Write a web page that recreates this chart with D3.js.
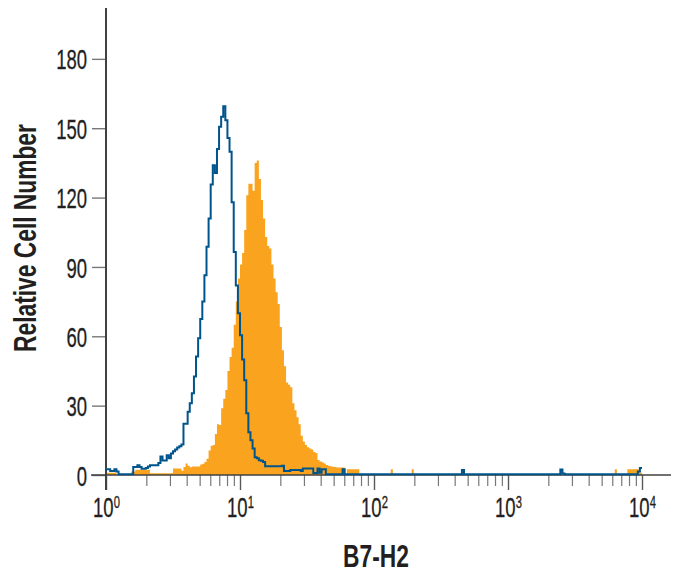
<!DOCTYPE html>
<html>
<head>
<meta charset="utf-8">
<script src="https://cdnjs.cloudflare.com/ajax/libs/d3/7.8.5/d3.min.js"></script>
<style>
  body { margin: 0; background: #fff; }
  text { font-family: "Liberation Sans", sans-serif; fill: #231f20; }
</style>
</head>
<body>
<div id="canvas"></div>
<script>
// counts per channel, 256 channels over 4 decades
var isotypeCounts = [
    2.5, 2.5, 1.7, 1.7, 2.5, 1.5, 0.3, 0.3, 0.3, 0.3,
    0.3, 0.3, 0.3, 3.5, 3.5, 4.2, 3.5, 2.7, 2.7, 3,
    3.7, 4.2, 4.2, 4.2, 4.2, 5.2, 8, 6.3, 6.3, 8.5,
    7.2, 9.3, 10.3, 11, 11.9, 12.4, 13.2, 22.2, 22.2, 27.4,
    31, 35.4, 42.6, 51.3, 59.2, 67.5, 75, 86.4, 98.7, 111,
    125.7, 134, 130.6, 141, 150.6, 155, 159.5, 153.5, 145.8, 139.8,
    118, 96.5, 82, 70, 60.4, 50, 41, 26.7, 18.5, 15,
    11.5, 7.7, 7.2, 6.4, 6.2, 5.6, 3.8, 3.8, 3.8, 3.8,
    3.8, 3.8, 3.8, 3.8, 4, 1.7, 1.7, 1.7, 2.2, 2.2,
    2.2, 2.2, 2.2, 1.7, 2.8, 2.8, 2.8, 2.8, 2.8, 0.9,
    0.9, 2.8, 1, 2.5, 2.5, 0.3, 0.3, 0.3, 0.3, 0.3,
    0.3, 0.3, 0.3, 2.5, 0.3, 0.3, 0.3, 0.3, 0.3, 0.3,
    0.3, 0.3, 0.3, 0.3, 0.3, 0.3, 0.3, 0.3, 0.3, 0.3,
    0.3, 0.3, 0.3, 0.3, 0.3, 0.3, 0.3, 0.3, 0.3, 0.3,
    0.3, 0.3, 0.3, 0.3, 0.3, 0.3, 0.3, 0.3, 0.3, 0.3,
    0.3, 0.3, 0.3, 0.3, 0.3, 0.3, 0.3, 0.3, 0.3, 0.3,
    0.3, 0.3, 0.3, 0.3, 0.3, 0.3, 0.3, 0.3, 0.3, 0.3,
    2.2, 0.3, 0.3, 0.3, 0.3, 0.3, 0.3, 0.3, 0.3, 0.3,
    0.3, 0.3, 0.3, 0.3, 0.3, 0.3, 0.3, 0.3, 0.3, 0.3,
    0.3, 0.3, 0.3, 0.3, 0.3, 0.3, 0.3, 0.3, 0.3, 0.3,
    0.3, 0.3, 0.3, 0.3, 0.3, 0.3, 0.3, 0.3, 0.3, 0.3,
    0.3, 0.3, 0.3, 0.3, 0.3, 0.3, 0.3, 2.4, 0.6, 0.3,
    0.3, 0.3, 0.3, 0.3, 0.3, 0.3, 0.3, 0.3, 0.3, 0.3,
    0.3, 0.3, 0.3, 0.3, 0.3, 0.3, 0.3, 0.3, 0.3, 0.3,
    0.3, 0.3, 0.3, 0.3, 0.3, 0.3, 0.3, 0.3, 0.3, 0.3,
    0.3, 0.3, 0.3, 0.3, 1.5, 3
];

var b7h2Counts = [
    1, 1, 1, 1, 1, 0, 0, 0, 0, 0,
    0, 0, 1.5, 1.5, 2.3, 2.3, 2.3, 2.3, 2.3, 2.3,
    2.3, 0.8, 0.8, 0.8, 0.8, 0.8, 0.8, 0.8, 0.8, 0.8,
    0.8, 0.8, 2.8, 2.8, 2.8, 2.8, 1.8, 3.5, 5, 4,
    3.3, 3.7, 3.7, 3.7, 3.7, 4.5, 4.9, 5.6, 7, 10.6,
    12.7, 13, 17.7, 22, 21.6, 28.9, 33, 36.8, 45, 51,
    55, 65, 75, 85, 91, 96, 106, 121, 126, 126,
    123, 135, 136, 128, 119, 111, 103, 99, 98, 91,
    85, 79, 74, 64, 54, 47, 40, 39, 38, 31,
    28, 25, 22, 17, 14.5, 13, 12, 11.5, 11, 10,
    9.5, 6.5, 5.8, 5.5, 5, 4.3, 4, 3.8, 3.6, 3.5,
    3.2, 3.2, 3.2, 3.2, 0.5, 2.5, 2.5, 2.5, 2.5, 2.5,
    2.5, 0, 0, 0, 0, 0, 0, 0, 0, 0,
    0, 0, 0, 0, 0, 0, 2.5, 0, 0, 0,
    0, 0, 0, 0, 0, 0, 2.5, 0, 0, 0,
    0, 0, 0, 0, 0, 0, 0, 0, 0, 0,
    0, 0, 0, 0, 0, 0, 0, 0, 0, 0,
    1.2, 0, 0, 0, 0, 0, 0, 0, 0, 0,
    0, 0, 0, 0, 0, 0, 0, 0, 0, 0,
    0, 0, 0, 0, 0, 0, 0, 0, 0, 0,
    0, 0, 0, 0, 0, 0, 0, 0, 0, 0,
    0, 0, 0, 0, 0, 0, 0, 1.2, 0, 0,
    0, 0, 0, 0, 0, 0, 0, 0, 0, 0,
    0, 0, 0, 0, 0, 0, 0, 0, 0, 0,
    0, 0, 0, 2.5, 0, 0, 0, 0, 0, 2.5,
    2.5, 2.5, 2.5, 2.5, 2.5, 1
];

var xMajor = [1, 10, 100, 1000, 10000];
var xExponents = [0, 1, 2, 3, 4];
var xMinor = [2, 3, 4, 5, 6, 7, 8, 9, 20, 30, 40, 50, 60, 70, 80, 90,
    200, 300, 400, 500, 600, 700, 800, 900,
    2000, 3000, 4000, 5000, 6000, 7000, 8000, 9000];
var yTicks = [0, 30, 60, 90, 120, 150, 180];

var channelsPerDecade = 64;
// the installed fonts have no condensed cut, so squeeze the text sideways
var tickSqueeze = 0.66;
var titleSqueeze = 0.735;

function barPoints(counts) {
    var pts = counts.map(function(c, i) {
        return { value: Math.pow(10, i / channelsPerDecade), count: c };
    });
    // close the last step at the end of the axis
    pts.push({ value: 10000, count: counts[counts.length - 1] });
    return pts;
}

var svg = d3.select('#canvas').append('svg')
    .attr('width', 680)
    .attr('height', 580);

var x = d3.scaleLog().domain([1, 10000]).range([106, 642]);
var y = d3.scaleLinear().domain([0, 202]).range([475, 8]);

var area = d3.area()
    .curve(d3.curveStepAfter)
    .x(function(d) { return x(d.value); })
    .y0(y(0))
    .y1(function(d) { return y(d.count); });

var line = d3.line()
    .curve(d3.curveStepAfter)
    .x(function(d) { return x(d.value); })
    .y(function(d) { return y(d.count); });

svg.append('path')
    .attr('d', area(barPoints(b7h2Counts)))
    .attr('fill', '#faa31e');

// axes
var minorAxis = svg.append('g')
    .attr('transform', 'translate(0,475)')
    .call(d3.axisBottom(x).tickValues(xMinor).tickSize(11).tickFormat(''));
minorAxis.select('.domain').remove();
minorAxis.selectAll('line').attr('stroke', '#77787b').attr('stroke-width', 1.2);

var majorAxis = svg.append('g')
    .attr('transform', 'translate(0,475)')
    .call(d3.axisBottom(x).tickValues(xMajor).tickSize(15).tickFormat(''));
majorAxis.select('.domain').remove();
majorAxis.selectAll('line').attr('stroke', '#58595b').attr('stroke-width', 1.4);

majorAxis.selectAll('text')
    .attr('font-size', 28)
    .attr('y', 0)
    .attr('dy', 0)
    .attr('stroke', '#231f20')
    .attr('stroke-width', 0.3)
    .attr('transform', 'translate(0,42) scale(' + tickSqueeze + ',1)')
    .each(function(d, i) {
        var t = d3.select(this);
        t.append('tspan').text('10');
        t.append('tspan')
            .attr('font-size', 17)
            .attr('dy', -9)
            .text(xExponents[i]);
    });

var leftAxis = svg.append('g')
    .attr('transform', 'translate(106,0)')
    .call(d3.axisLeft(y).tickValues(yTicks).tickSize(14));
leftAxis.select('.domain').remove();
leftAxis.selectAll('line').attr('stroke', '#77787b').attr('stroke-width', 1.4);
leftAxis.selectAll('text')
    .attr('font-size', 28)
    .attr('x', 0)
    .attr('dy', '0.36em')
    .attr('stroke', '#231f20')
    .attr('stroke-width', 0.3)
    .attr('transform', 'translate(-19,0) scale(' + tickSqueeze + ',1)');

svg.append('line')
    .attr('x1', 106).attr('x2', 106)
    .attr('y1', y(202)).attr('y2', 490)
    .attr('stroke', '#414042').attr('stroke-width', 2);

svg.append('line')
    .attr('x1', 91).attr('x2', 671)
    .attr('y1', y(0)).attr('y2', y(0))
    .attr('stroke', '#414042').attr('stroke-width', 1.4);

svg.append('path')
    .attr('d', line(barPoints(isotypeCounts)))
    .attr('fill', 'none')
    .attr('stroke', '#00548c')
    .attr('stroke-width', 2);

// axis titles
svg.append('text')
    .attr('transform', 'translate(376,567) scale(' + titleSqueeze + ',1)')
    .attr('text-anchor', 'middle')
    .attr('font-size', 31)
    .attr('font-weight', 'bold')
    .text('B7-H2');

svg.append('text')
    .attr('transform', 'translate(36,238) rotate(-90) scale(' + titleSqueeze + ',1)')
    .attr('text-anchor', 'middle')
    .attr('font-size', 31)
    .attr('font-weight', 'bold')
    .text('Relative Cell Number');
</script>
</body>
</html>
